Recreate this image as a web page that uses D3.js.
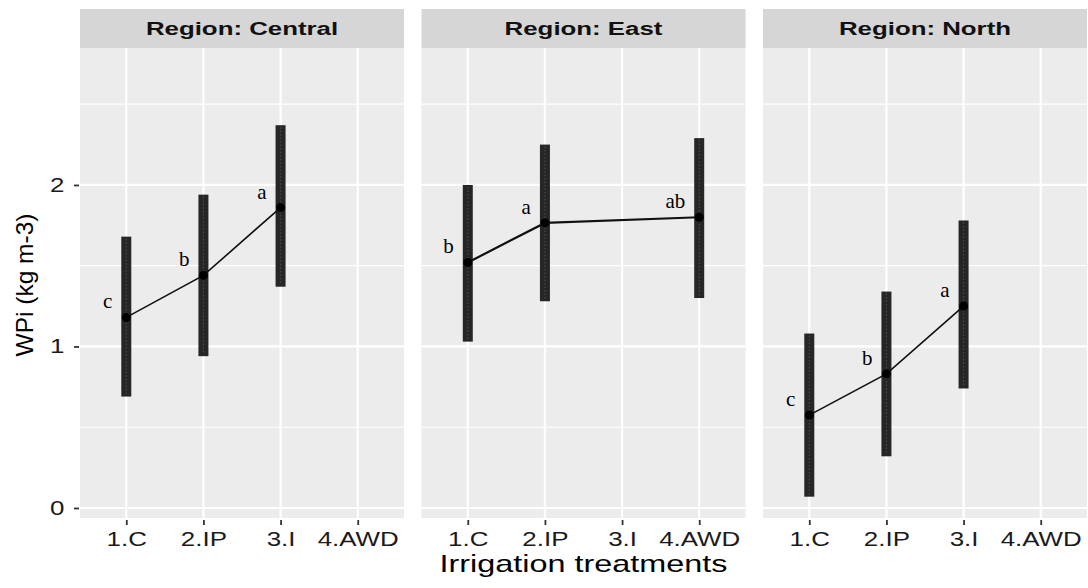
<!DOCTYPE html>
<html>
<head>
<meta charset="utf-8">
<script src="https://cdn.jsdelivr.net/npm/d3@7"></script>
<style>
	body { margin: 0; background: #fff; }
	svg { display: block; }
</style>
</head>
<body>
<div id="chart"></div>
<script>
var treatments = ["1.C", "2.IP", "3.I", "4.AWD"];
var regions = ["Region: Central", "Region: East", "Region: North"];

/*mean WPi per treatment, null where the treatment was not tested*/
var centralMean = [1.18, 1.44, 1.86, null];
var eastMean = [1.52, 1.765, null, 1.80];
var northMean = [0.575, 0.83, 1.25, null];

/*error bar limits*/
var centralLow = [0.69, 0.94, 1.37, null];
var centralHigh = [1.68, 1.94, 2.37, null];
var eastLow = [1.03, 1.28, null, 1.30];
var eastHigh = [2.00, 2.25, null, 2.29];
var northLow = [0.07, 0.32, 0.74, null];
var northHigh = [1.08, 1.34, 1.78, null];

/*significance letters*/
var centralLetters = ["c", "b", "a", null];
var eastLetters = ["b", "a", null, "ab"];
var northLetters = ["c", "b", "a", null];

var yTicks = [0, 1, 2];
var yMinor = [0.5, 1.5, 2.5];

var panels = [
	{ name: regions[0], mean: centralMean, low: centralLow, high: centralHigh, letters: centralLetters },
	{ name: regions[1], mean: eastMean, low: eastLow, high: eastHigh, letters: eastLetters },
	{ name: regions[2], mean: northMean, low: northLow, high: northHigh, letters: northLetters }
];

var width = 1088, height = 588,
	panelLeft = 80,		/*left of first panel*/
	panelW = 324,
	panelStep = 341.5,
	stripTop = 9,
	stripH = 39,
	plotTop = 48,
	plotBottom = 518,
	stretch = 1.33;		/*the source picture is drawn wider than tall*/

var sans = "'Liberation Sans', Arial, sans-serif";

var svg = d3.select("#chart").append("svg")
	.attr("width", width)
	.attr("height", height)
	.style("font-family", sans);

var y = d3.scaleLinear().domain([-0.062, 2.848]).range([plotBottom, plotTop]);
var x = d3.scalePoint().domain(treatments).range([0, panelW]).padding(0.6);

panels.forEach(function (p, i) {
	var g = svg.append("g").attr("transform", "translate(" + (panelLeft + i * panelStep) + ",0)");

	// strip
	g.append("rect")
		.attr("x", 0).attr("y", stripTop)
		.attr("width", panelW).attr("height", stripH)
		.attr("fill", "#d6d6d6");
	g.append("text")
		.attr("transform", "translate(" + (panelW / 2) + "," + (stripTop + stripH / 2 + 6.5) + ") scale(1.36,1)")
		.attr("text-anchor", "middle")
		.attr("font-size", 19).attr("font-weight", "bold")
		.attr("fill", "#111")
		.text(p.name);

	// background + grid
	g.append("rect")
		.attr("x", 0).attr("y", plotTop)
		.attr("width", panelW).attr("height", plotBottom - plotTop)
		.attr("fill", "#ececec");
	g.selectAll(".minor").data(yMinor).enter().append("line")
		.attr("x1", 0).attr("x2", panelW)
		.attr("y1", function (d) { return y(d); }).attr("y2", function (d) { return y(d); })
		.attr("stroke", "#fff").attr("stroke-width", 1.2);
	g.selectAll(".major").data(yTicks).enter().append("line")
		.attr("x1", 0).attr("x2", panelW)
		.attr("y1", function (d) { return y(d); }).attr("y2", function (d) { return y(d); })
		.attr("stroke", "#fff").attr("stroke-width", 2.2);
	g.selectAll(".vgrid").data(treatments).enter().append("line")
		.attr("x1", function (d) { return x(d); }).attr("x2", function (d) { return x(d); })
		.attr("y1", plotTop).attr("y2", plotBottom)
		.attr("stroke", "#fff").attr("stroke-width", 2.2);

	// x axis
	var xAxis = d3.axisBottom(x).tickSize(5).tickPadding(7);
	var ax = g.append("g").attr("transform", "translate(0," + (plotBottom + 2) + ")").call(xAxis);
	ax.select(".domain").remove();
	ax.selectAll(".tick line").attr("stroke", "#333").attr("stroke-width", 1.8);
	ax.selectAll(".tick text")
		.attr("font-size", 19.5).attr("fill", "#1a1a1a")
		.attr("font-family", sans)
		.attr("transform", "scale(" + stretch + ",1)");

	if (i == 0) {
		var yAxis = d3.axisLeft(y).tickValues(yTicks).tickFormat(d3.format("d")).tickSize(5).tickPadding(6);
		var ay = g.append("g").attr("transform", "translate(-1,0)").call(yAxis);
		ay.select(".domain").remove();
		ay.selectAll(".tick line").attr("stroke", "#333").attr("stroke-width", 1.8);
		ay.selectAll(".tick text")
			.attr("font-size", 19.5).attr("fill", "#1a1a1a")
			.attr("font-family", sans)
			.attr("transform", "scale(" + stretch + ",1)");
	}

	var rows = treatments.map(function (t, k) {
		return { t: t, mean: p.mean[k], low: p.low[k], high: p.high[k], letter: p.letters[k] };
	}).filter(function (d) { return d.mean != null; });

	// error bars
	g.selectAll(".bar").data(rows).enter().append("rect")
		.attr("x", function (d) { return x(d.t) - 5; })
		.attr("y", function (d) { return y(d.high); })
		.attr("width", 10)
		.attr("height", function (d) { return y(d.low) - y(d.high); })
		.attr("fill", "#262626");
	g.selectAll(".barTex").data(rows).enter().append("line")
		.attr("x1", function (d) { return x(d.t); }).attr("x2", function (d) { return x(d.t); })
		.attr("y1", function (d) { return y(d.high) + 2; })
		.attr("y2", function (d) { return y(d.low) - 2; })
		.attr("stroke", "#4a4a4a").attr("stroke-width", 1.2)
		.attr("stroke-dasharray", "1.5,2");

	// mean line + points
	var line = d3.line()
		.x(function (d) { return x(d.t); })
		.y(function (d) { return y(d.mean); });
	g.append("path").datum(rows)
		.attr("d", line)
		.attr("fill", "none")
		.attr("stroke", "#111")
		.attr("stroke-width", i == 1 ? 2.2 : 1.6);
	g.selectAll(".pt").data(rows).enter().append("circle")
		.attr("cx", function (d) { return x(d.t); })
		.attr("cy", function (d) { return y(d.mean); })
		.attr("r", 4.5)
		.attr("fill", "#000");

	// letters
	g.selectAll(".lett").data(rows.filter(function (d) { return d.letter; })).enter().append("text")
		.attr("x", function (d) { return x(d.t) - 14; })
		.attr("y", function (d) { return y(d.mean) - 9; })
		.attr("text-anchor", "end")
		.attr("font-family", "'Liberation Serif', 'Times New Roman', serif")
		.attr("font-size", 21)
		.attr("fill", "#000")
		.text(function (d) { return d.letter; });
});

// axis titles
svg.append("text")
	.attr("transform", "translate(" + (panelLeft + (2 * panelStep + panelW) / 2) + ",572) scale(1.35,1)")
	.attr("text-anchor", "middle")
	.attr("font-size", 24)
	.attr("fill", "#000")
	.text("Irrigation treatments");

svg.append("text")
	.attr("transform", "translate(33,285) rotate(-90)")
	.attr("text-anchor", "middle")
	.attr("font-size", 24.5)
	.attr("fill", "#000")
	.text("WPi (kg m-3)");
</script>
</body>
</html>
